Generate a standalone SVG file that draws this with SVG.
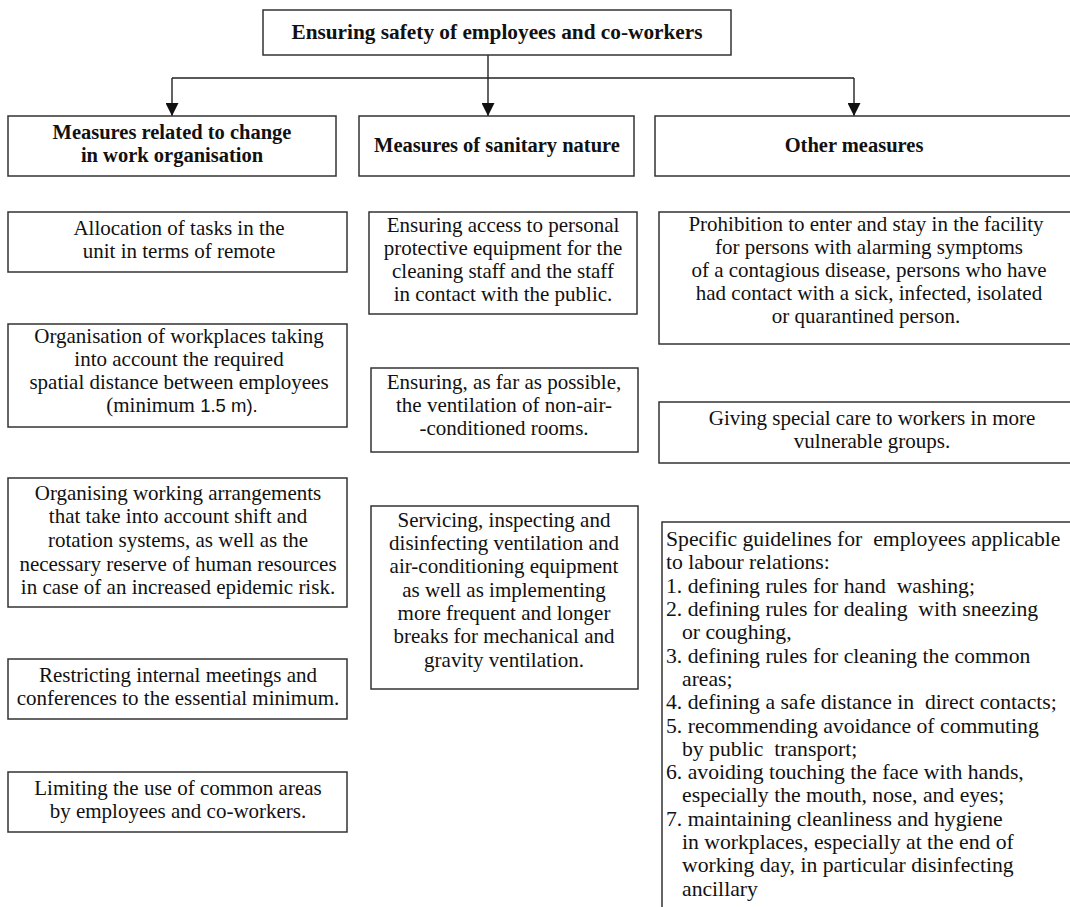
<svg xmlns="http://www.w3.org/2000/svg" width="1070" height="907" viewBox="0 0 1070 907">
<style>
.box{fill:#fff;stroke:#333;stroke-width:1.5}
.t{font-family:"Liberation Serif","Times New Roman",serif;font-size:21px;fill:#111;text-anchor:middle}
.b{font-weight:bold;font-size:20.5px}
.tt{font-size:21.3px}
.l{text-anchor:start;font-size:21.7px;white-space:pre}
.con{fill:none;stroke:#222;stroke-width:1.4}
.sans{font-family:"Liberation Sans",Arial,sans-serif;font-size:18.5px}
</style>
<defs>
<marker id="arr" markerWidth="13" markerHeight="13" refX="6.5" refY="13" orient="0" markerUnits="userSpaceOnUse" viewBox="0 0 13 13">
<path d="M0,0 L13,0 L6.5,13 Z" fill="#111"/>
</marker>
</defs>
<rect width="1070" height="907" fill="#fff"/>
<g id="connectors">
<path class="con" d="M488,55 V78"/>
<path class="con" d="M172,78 H854"/>
<path class="con" d="M172,78 V116" marker-end="url(#arr)"/>
<path class="con" d="M488,78 V116" marker-end="url(#arr)"/>
<path class="con" d="M854,78 V116" marker-end="url(#arr)"/>
</g>
<g id="title">
<rect class="box" x="263" y="10" width="468" height="45"/>
<text class="t b tt" x="497" y="39">Ensuring safety of employees and co-workers</text>
</g>
<g id="h1">
<rect class="box" x="8" y="116" width="328" height="60"/>
<text class="t b" x="172" y="139">Measures related to change</text>
<text class="t b" x="172" y="162">in work organisation</text>
</g>
<g id="h2">
<rect class="box" x="359" y="116" width="275" height="60"/>
<text class="t b" x="497" y="152">Measures of sanitary nature</text>
</g>
<g id="h3">
<rect class="box" x="655" y="116" width="430" height="60"/>
<text class="t b" x="854" y="152">Other measures</text>
</g>
<g id="a1">
<rect class="box" x="8" y="212" width="339" height="60"/>
<text class="t" x="179" y="235">Allocation of tasks in the</text>
<text class="t" x="179" y="258">unit in terms of remote</text>
</g>
<g id="a2">
<rect class="box" x="8" y="324" width="339" height="103"/>
<text class="t" x="179" y="343">Organisation of workplaces taking</text>
<text class="t" x="179" y="366">into account the required</text>
<text class="t" x="179" y="389">spatial distance between employees</text>
<text class="t" x="182" y="412">(minimum <tspan class="sans">1.5 m).</tspan></text>
</g>
<g id="a3">
<rect class="box" x="8" y="478" width="339" height="129"/>
<text class="t" x="178" y="500">Organising working arrangements</text>
<text class="t" x="178" y="523">that take into account shift and</text>
<text class="t" x="178" y="547">rotation systems, as well as the</text>
<text class="t" x="178" y="571">necessary reserve of human resources</text>
<text class="t" x="178" y="594">in case of an increased epidemic risk.</text>
</g>
<g id="a4">
<rect class="box" x="8" y="659" width="339" height="60"/>
<text class="t" x="178" y="682">Restricting internal meetings and</text>
<text class="t" x="178" y="705">conferences to the essential minimum.</text>
</g>
<g id="a5">
<rect class="box" x="8" y="772" width="339" height="60"/>
<text class="t" x="178" y="795">Limiting the use of common areas</text>
<text class="t" x="178" y="818">by employees and co-workers.</text>
</g>
<g id="b1">
<rect class="box" x="369" y="212" width="268" height="102"/>
<text class="t" x="503" y="232">Ensuring access to personal</text>
<text class="t" x="503" y="255">protective equipment for the</text>
<text class="t" x="503" y="278">cleaning staff and the staff</text>
<text class="t" x="503" y="301">in contact with the public.</text>
</g>
<g id="b2">
<rect class="box" x="371" y="368" width="267" height="84"/>
<text class="t" x="504" y="389">Ensuring, as far as possible,</text>
<text class="t" x="504" y="412">the ventilation of non-air-</text>
<text class="t" x="504" y="435">-conditioned rooms.</text>
</g>
<g id="b3">
<rect class="box" x="371" y="506" width="267" height="183"/>
<text class="t" x="504" y="527">Servicing, inspecting and</text>
<text class="t" x="504" y="550">disinfecting ventilation and</text>
<text class="t" x="504" y="573">air-conditioning equipment</text>
<text class="t" x="504" y="597">as well as implementing</text>
<text class="t" x="504" y="620">more frequent and longer</text>
<text class="t" x="504" y="643">breaks for mechanical and</text>
<text class="t" x="504" y="667">gravity ventilation.</text>
</g>
<g id="c1">
<rect class="box" x="659" y="212" width="430" height="132"/>
<text class="t" x="866" y="231">Prohibition to enter and stay in the facility</text>
<text class="t" x="869" y="254">for persons with alarming symptoms</text>
<text class="t" x="869" y="277">of a contagious disease, persons who have</text>
<text class="t" x="869" y="300">had contact with a sick, infected, isolated</text>
<text class="t" x="866" y="323">or quarantined person.</text>
</g>
<g id="c2">
<rect class="box" x="659" y="402" width="430" height="61"/>
<text class="t" x="872" y="425">Giving special care to workers in more</text>
<text class="t" x="872" y="448">vulnerable groups.</text>
</g>
<g id="c3">
<rect class="box" x="662" y="522" width="430" height="400"/>
<text class="t l" x="666" y="546">Specific guidelines for  employees applicable</text>
<text class="t l" x="666" y="569">to labour relations:</text>
<text class="t l" x="666" y="593">1. defining rules for hand  washing;</text>
<text class="t l" x="666" y="616">2. defining rules for dealing  with sneezing</text>
<text class="t l" x="682" y="639">or coughing,</text>
<text class="t l" x="666" y="663">3. defining rules for cleaning the common</text>
<text class="t l" x="682" y="686">areas;</text>
<text class="t l" x="666" y="709">4. defining a safe distance in  direct contacts;</text>
<text class="t l" x="666" y="733">5. recommending avoidance of commuting</text>
<text class="t l" x="682" y="756">by public  transport;</text>
<text class="t l" x="666" y="779">6. avoiding touching the face with hands,</text>
<text class="t l" x="682" y="802">especially the mouth, nose, and eyes;</text>
<text class="t l" x="666" y="826">7. maintaining cleanliness and hygiene</text>
<text class="t l" x="682" y="849">in workplaces, especially at the end of</text>
<text class="t l" x="682" y="872">working day, in particular disinfecting</text>
<text class="t l" x="682" y="896">ancillary</text>
</g>
</svg>
